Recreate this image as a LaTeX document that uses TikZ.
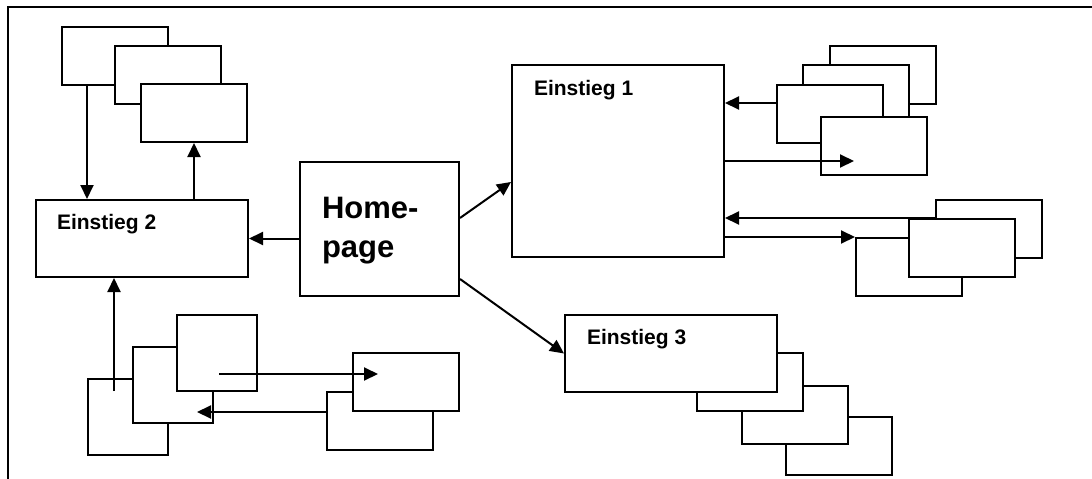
\documentclass[tikz,border=0pt]{standalone}
\usepackage{fontspec}
\setmainfont{Liberation Sans}
\usetikzlibrary{arrows.meta}

\begin{document}
\begin{tikzpicture}[x=1pt,y=-1pt,line width=2pt,
  box/.style={draw,fill=white,inner sep=0pt,anchor=north west},
  card/.style={box,minimum width=106pt,minimum height=58pt},
  sq/.style={box,minimum width=80pt,minimum height=76pt},
  entry/.style={box,minimum width=212pt,minimum height=77pt},
  lbl/.style={anchor=base west,inner sep=0pt,font=\bfseries\fontsize{21}{25}\selectfont},
  hp/.style={anchor=base west,inner sep=0pt,font=\bfseries\fontsize{31}{38}\selectfont},
  arr/.style={-{Triangle[length=14pt,width=13pt]}}]
  \useasboundingbox (0,0) rectangle (1092,479);
  \coordinate (frametl) at (8,7);
  \draw (frametl -| 1092,0) -- (frametl) -- (frametl |- 0,479);

      \node[card] (tl1) at (61,26) {};
      \node[card] (tl2) at (114,45) {};
      \node[card] (tl3) at (140,83) {};
      \node[entry] (ein2) at (35,199) {};
      \node[lbl] (ein2t) at ([xshift=21pt,yshift=-30pt]ein2.north west) {Einstieg 2};

      \node[box,minimum width=159pt,minimum height=134pt] (home) at (299,161) {};
      \node[hp] (home1) at ([xshift=22pt,yshift=-57pt]home.north west) {Home-};
      \node[hp] (home2) at ([xshift=22pt,yshift=-96pt]home.north west) {page};

      \node[box,minimum width=212pt,minimum height=192pt] (ein1) at (511,64) {};
      \node[lbl] (ein1t) at ([xshift=22pt,yshift=-31pt]ein1.north west) {Einstieg 1};

      \node[card] (tr1) at (829,45) {};
      \node[card] (tr2) at (802,64) {};
      \node[card] (tr3) at (776,84) {};
      \node[card] (tr4) at (820,116) {};

      \node[card] (br1) at (935,199) {};
      \node[card] (br3) at (855,237) {};
      \node[card] (br2) at (908,218) {};

      \node[card] (bs3) at (785,416) {};
      \node[card] (bs2) at (741,385) {};
      \node[card] (bs1) at (696,352) {};
      \node[entry] (ein3) at (564,314) {};
      \node[lbl] (ein3t) at ([xshift=22pt,yshift=-30pt]ein3.north west) {Einstieg 3};

      \node[sq] (bl1) at (87,378) {};
      \node[sq] (bl2) at (132,346) {};
      \node[sq] (bl3) at (176,314) {};
      \node[card] (bm2) at (326,391) {};
      \node[card] (bm1) at (352,352) {};

      \coordinate (blout) at ([xshift=43pt,yshift=18pt]bl3.south west);

      \draw[arr] ([xshift=26pt]tl1.south west) -- ([xshift=26pt]tl1.south west |- ein2.north);
      \draw[arr] (ein2.north -| tl3.south) -- (tl3.south);
      \draw[arr] (home.west |- ein2.east) -- (ein2.east);
      \draw[arr] ([yshift=11pt]home.east) -- ([yshift=-21pt]ein1.west);
      \draw[arr] ([yshift=18pt]home.south east) -- (ein3.west);
      \draw[arr] ([yshift=-19pt]tr3.north west) -- ([yshift=-19pt]tr3.north west -| ein1.east);
      \draw[arr] (ein1.east) -- ([xshift=34pt]tr4.west |- ein1.east);
      \draw[arr] (br1.west |- br2.north) -- (br2.north -| ein1.east);
      \draw[arr] (br3.north west -| ein1.east) -- (br3.north west);
      \draw[arr] ([xshift=27pt,yshift=-13pt]bl1.north west) -- ([xshift=27pt]bl1.north west |- ein2.south);
      \draw[arr] (blout) -- ([xshift=26pt]bm1.west |- blout);
      \draw[arr] (bm2.west |- bm1.south) -- ([xshift=-17pt]bl2.east |- bm1.south);
\end{tikzpicture}
\end{document}
